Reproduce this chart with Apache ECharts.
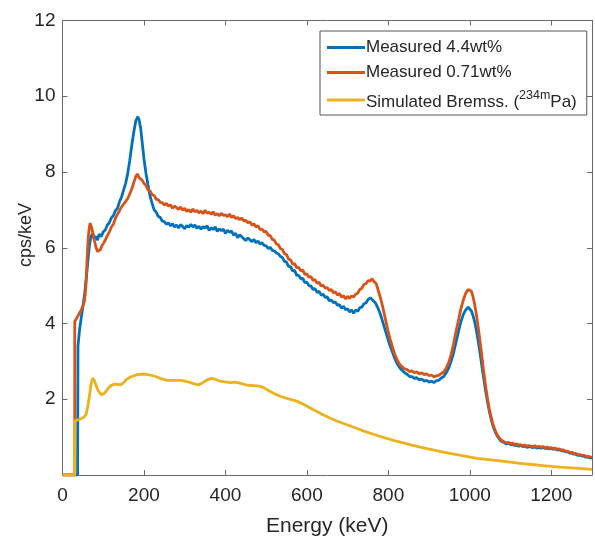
<!DOCTYPE html>
<html>
<head>
<meta charset="utf-8">
<script src="https://cdn.jsdelivr.net/npm/echarts@6/dist/echarts.min.js"></script>
<style>
  html, body { margin: 0; padding: 0; background: #ffffff; }
  #chart { width: 595px; height: 542px; }
</style>
</head>
<body>
<div id="chart"></div>
<script>
// Gamma spectra: [energy keV, counts per second per keV]
const measured44 = [
  [0, 0], [37, 0], [38, 3.4], [42, 3.85], [46, 4.15], [50, 4.45], [54, 4.75], [58, 5.15],
  [62, 5.6], [66, 6.05], [70, 6.3], [74, 6.38], [78, 6.24], [82, 6.3], [86, 6.2], [90, 6.36],
  [95, 6.29], [100, 6.42], [105, 6.47], [110, 6.6], [115, 6.66], [120, 6.79], [125, 6.85],
  [130, 6.98], [135, 7.04], [140, 7.22], [145, 7.34], [150, 7.52], [155, 7.7], [160, 7.95],
  [165, 8.3], [170, 8.7], [175, 9.05], [180, 9.35], [185, 9.46], [188, 9.38], [192, 9.15],
  [196, 8.75], [200, 8.35], [205, 7.96], [210, 7.65], [215, 7.36], [220, 7.17], [225, 7.0],
  [230, 6.94], [235, 6.83], [240, 6.8], [245, 6.7], [250, 6.69], [255, 6.62], [260, 6.66],
  [265, 6.58], [270, 6.63], [275, 6.55], [280, 6.6], [285, 6.52], [290, 6.61], [295, 6.56],
  [300, 6.5], [305, 6.59], [310, 6.54], [315, 6.62], [320, 6.55], [325, 6.6], [330, 6.51],
  [335, 6.57], [340, 6.49], [345, 6.56], [350, 6.52], [355, 6.58], [360, 6.46], [365, 6.53],
  [370, 6.48], [375, 6.55], [380, 6.43], [385, 6.5], [390, 6.45], [395, 6.49], [400, 6.38],
  [405, 6.46], [410, 6.41], [415, 6.44], [420, 6.33], [425, 6.38], [430, 6.27], [435, 6.34],
  [440, 6.29], [445, 6.24], [450, 6.19], [455, 6.26], [460, 6.21], [465, 6.16], [470, 6.22],
  [475, 6.13], [480, 6.18], [485, 6.1], [490, 6.13], [495, 6.06], [500, 6.05], [505, 5.98],
  [510, 6.01], [515, 5.93], [520, 5.92], [525, 5.86], [530, 5.84], [535, 5.77], [540, 5.74],
  [545, 5.64], [550, 5.62], [555, 5.51], [560, 5.5], [565, 5.39], [570, 5.4], [575, 5.27],
  [580, 5.27], [585, 5.18], [590, 5.19], [595, 5.08], [600, 5.09], [605, 5.0], [610, 4.99],
  [615, 4.9], [620, 4.92], [625, 4.82], [630, 4.85], [635, 4.75], [640, 4.77], [645, 4.69],
  [650, 4.7], [655, 4.6], [660, 4.62], [665, 4.55], [670, 4.57], [675, 4.48], [680, 4.5],
  [685, 4.4], [690, 4.46], [695, 4.36], [700, 4.39], [705, 4.3], [710, 4.36], [715, 4.27],
  [720, 4.36], [725, 4.32], [730, 4.42], [735, 4.43], [740, 4.52], [745, 4.54], [750, 4.63],
  [756, 4.68], [762, 4.61], [768, 4.55], [774, 4.42], [780, 4.26], [786, 4.05], [792, 3.84],
  [798, 3.62], [804, 3.42], [810, 3.25], [816, 3.07], [822, 2.93], [828, 2.83], [834, 2.76],
  [840, 2.7], [846, 2.66], [852, 2.6], [858, 2.6], [864, 2.55], [870, 2.57], [876, 2.51],
  [882, 2.53], [888, 2.48], [894, 2.5], [900, 2.45], [906, 2.48], [912, 2.44], [918, 2.49],
  [924, 2.5], [930, 2.56], [936, 2.6], [942, 2.7], [948, 2.82], [954, 3.0], [960, 3.22],
  [966, 3.5], [972, 3.78], [978, 4.04], [984, 4.24], [990, 4.36], [996, 4.43], [1000, 4.4],
  [1004, 4.33], [1008, 4.2], [1012, 4.04], [1016, 3.83], [1020, 3.58], [1024, 3.3],
  [1028, 3.0], [1032, 2.7], [1036, 2.42], [1040, 2.14], [1044, 1.9], [1048, 1.68],
  [1052, 1.49], [1056, 1.33], [1060, 1.2], [1064, 1.1], [1068, 1.02], [1072, 0.96],
  [1076, 0.9], [1080, 0.88], [1085, 0.85], [1090, 0.82], [1095, 0.84], [1100, 0.8],
  [1105, 0.81], [1110, 0.78], [1115, 0.79], [1120, 0.76], [1125, 0.78], [1130, 0.75],
  [1135, 0.76], [1140, 0.73], [1145, 0.75], [1150, 0.74], [1155, 0.72], [1160, 0.74],
  [1165, 0.71], [1170, 0.73], [1175, 0.71], [1180, 0.73], [1185, 0.7], [1190, 0.71],
  [1195, 0.69], [1200, 0.7], [1205, 0.68], [1210, 0.69], [1215, 0.66], [1220, 0.67],
  [1225, 0.64], [1230, 0.64], [1235, 0.61], [1240, 0.61], [1245, 0.58], [1250, 0.58],
  [1255, 0.55], [1260, 0.55], [1265, 0.52], [1270, 0.52], [1275, 0.5], [1280, 0.5],
  [1285, 0.47], [1290, 0.47], [1295, 0.45], [1300, 0.45]
];

const measured071 = [
  [0, 0], [30, 0], [30, 4.05], [34, 4.12], [38, 4.2], [42, 4.28], [46, 4.36], [50, 4.45],
  [54, 4.6], [57, 4.9], [60, 5.6], [63, 6.25], [66, 6.55], [68, 6.65], [71, 6.55], [74, 6.42],
  [78, 6.2], [82, 6.02], [86, 5.9], [89, 5.86], [93, 5.95], [97, 6.06], [101, 6.12],
  [105, 6.2], [110, 6.32], [115, 6.42], [120, 6.55], [125, 6.62], [130, 6.78], [135, 6.88],
  [140, 6.98], [145, 7.08], [150, 7.15], [155, 7.22], [160, 7.3], [165, 7.42], [170, 7.55],
  [175, 7.72], [180, 7.88], [184, 7.95], [188, 7.85], [192, 7.9], [196, 7.78], [200, 7.7],
  [205, 7.64], [210, 7.53], [215, 7.5], [220, 7.4], [225, 7.38], [230, 7.28], [235, 7.27],
  [240, 7.2], [245, 7.19], [250, 7.13], [255, 7.17], [260, 7.1], [265, 7.14], [270, 7.04],
  [275, 7.1], [280, 7.06], [285, 7.01], [290, 7.08], [295, 6.99], [300, 7.04], [305, 6.96],
  [310, 7.01], [315, 6.94], [320, 7.02], [325, 6.95], [330, 6.99], [335, 6.92], [340, 6.97],
  [345, 6.9], [350, 6.99], [355, 6.91], [360, 6.94], [365, 6.88], [370, 6.95], [375, 6.86],
  [380, 6.9], [385, 6.84], [390, 6.91], [395, 6.85], [400, 6.87], [405, 6.82], [410, 6.89],
  [415, 6.8], [420, 6.84], [425, 6.77], [430, 6.8], [435, 6.74], [440, 6.78], [445, 6.71],
  [450, 6.72], [455, 6.66], [460, 6.69], [465, 6.6], [470, 6.63], [475, 6.55], [480, 6.58],
  [485, 6.48], [490, 6.49], [495, 6.42], [500, 6.43], [505, 6.33], [510, 6.32], [515, 6.22],
  [520, 6.2], [525, 6.1], [530, 6.08], [535, 5.98], [540, 5.95], [545, 5.84], [550, 5.82],
  [555, 5.7], [560, 5.68], [565, 5.57], [570, 5.58], [575, 5.47], [580, 5.48], [585, 5.39],
  [590, 5.41], [595, 5.3], [600, 5.31], [605, 5.22], [610, 5.24], [615, 5.14], [620, 5.16],
  [625, 5.06], [630, 5.09], [635, 4.99], [640, 5.01], [645, 4.93], [650, 4.95], [655, 4.87],
  [660, 4.9], [665, 4.81], [670, 4.84], [675, 4.75], [680, 4.79], [685, 4.7], [690, 4.73],
  [695, 4.65], [700, 4.72], [705, 4.66], [710, 4.73], [715, 4.7], [720, 4.78], [725, 4.8],
  [730, 4.9], [735, 4.93], [740, 5.03], [745, 5.05], [750, 5.13], [755, 5.12], [760, 5.18],
  [765, 5.1], [770, 5.06], [775, 4.88], [780, 4.7], [786, 4.45], [792, 4.15], [798, 3.86],
  [804, 3.6], [810, 3.38], [816, 3.18], [822, 3.03], [828, 2.92], [834, 2.86], [840, 2.8],
  [846, 2.78], [852, 2.73], [858, 2.75], [864, 2.7], [870, 2.72], [876, 2.67], [882, 2.7],
  [888, 2.65], [894, 2.67], [900, 2.62], [906, 2.64], [912, 2.59], [918, 2.62], [924, 2.63],
  [930, 2.68], [936, 2.72], [942, 2.82], [948, 2.96], [954, 3.18], [960, 3.45], [966, 3.78],
  [972, 4.08], [978, 4.38], [984, 4.62], [990, 4.8], [996, 4.9], [1000, 4.92], [1004, 4.85],
  [1008, 4.7], [1012, 4.5], [1016, 4.25], [1020, 3.95], [1024, 3.62], [1028, 3.28],
  [1032, 2.92], [1036, 2.58], [1040, 2.26], [1044, 1.98], [1048, 1.74], [1052, 1.54],
  [1056, 1.37], [1060, 1.24], [1064, 1.13], [1068, 1.05], [1072, 0.99], [1076, 0.93],
  [1080, 0.91], [1085, 0.87], [1090, 0.85], [1095, 0.86], [1100, 0.83], [1105, 0.84],
  [1110, 0.81], [1115, 0.82], [1120, 0.79], [1125, 0.8], [1130, 0.78], [1135, 0.79],
  [1140, 0.76], [1145, 0.78], [1150, 0.76], [1155, 0.75], [1160, 0.77], [1165, 0.74],
  [1170, 0.76], [1175, 0.73], [1180, 0.75], [1185, 0.72], [1190, 0.74], [1195, 0.71],
  [1200, 0.72], [1205, 0.7], [1210, 0.71], [1215, 0.68], [1220, 0.69], [1225, 0.66],
  [1230, 0.66], [1235, 0.63], [1240, 0.63], [1245, 0.6], [1250, 0.6], [1255, 0.57],
  [1260, 0.57], [1265, 0.54], [1270, 0.54], [1275, 0.52], [1280, 0.52], [1285, 0.5],
  [1290, 0.49], [1295, 0.48], [1300, 0.47]
];

const simulatedBremss = [
  [0, 0], [30, 0], [30, 1.43], [42, 1.47], [52, 1.52], [58, 1.6], [62, 1.8], [66, 2.08],
  [70, 2.4], [74, 2.56], [78, 2.5], [82, 2.38], [88, 2.22], [95, 2.12], [101, 2.14],
  [107, 2.21], [113, 2.3], [119, 2.36], [125, 2.39], [131, 2.4], [137, 2.39], [143, 2.38],
  [150, 2.44], [157, 2.52], [163, 2.56], [170, 2.6], [183, 2.65], [195, 2.66], [205, 2.66],
  [215, 2.64], [228, 2.6], [240, 2.55], [256, 2.5], [275, 2.5], [292, 2.5], [308, 2.46],
  [320, 2.42], [333, 2.38], [342, 2.42], [349, 2.47], [357, 2.52], [365, 2.55], [375, 2.53],
  [389, 2.47], [400, 2.46], [413, 2.44], [423, 2.45], [433, 2.43], [444, 2.4], [454, 2.37],
  [470, 2.36], [486, 2.34], [495, 2.3], [502, 2.25], [518, 2.16], [534, 2.08], [555, 2.01],
  [575, 1.95], [595, 1.85], [615, 1.73], [635, 1.62], [655, 1.51], [675, 1.42], [695, 1.34],
  [735, 1.18], [776, 1.03], [815, 0.91], [857, 0.79], [898, 0.69], [938, 0.6], [978, 0.52],
  [1018, 0.44], [1058, 0.39], [1099, 0.34], [1140, 0.29], [1180, 0.25], [1220, 0.21],
  [1260, 0.18], [1300, 0.15]
];

const seriesNames = ['Measured 4.4wt%', 'Measured 0.71wt%', 'Simulated Bremss. (234mPa)'];
const seriesColors = ['#0072BD', '#D95319', '#EDB120'];
const xTitle = 'Energy (keV)';
const yTitle = 'cps/keV';

const FONT = '"Liberation Sans", Arial, Helvetica, sans-serif';
const AXIS_GRAY = '#6a6a6a';
const TEXT_DARK = '#262626';

const chart = echarts.init(document.getElementById('chart'), null, { renderer: 'canvas' });

// Shared frame style: a closed box with inward ticks on all four sides
function boxAxis(extra) {
  return Object.assign({
    axisLine: { show: true, onZero: false, lineStyle: { color: AXIS_GRAY, width: 1 } },
    axisTick: { show: true, inside: true, length: 5, lineStyle: { color: AXIS_GRAY } },
    splitLine: { show: false }
  }, extra);
}

const option = {
  backgroundColor: '#ffffff',
  animation: false,
  grid: { left: 62.5, top: 20.5, width: 537, height: 459, containLabel: false },
  legend: {
    orient: 'vertical',
    left: 320,
    top: 31,
    data: seriesNames,
    icon: 'rect',
    itemWidth: 38,
    itemHeight: 3,
    itemGap: 8,
    padding: [8, 10, 4, 7],
    borderColor: '#555555',
    borderWidth: 1,
    backgroundColor: '#ffffff',
    textStyle: {
      fontFamily: FONT,
      fontSize: 17,
      color: TEXT_DARK,
      padding: [0, 0, 0, -4],
      rich: {
        n: { fontFamily: FONT, fontSize: 17, color: TEXT_DARK, verticalAlign: 'bottom' },
        sup: { fontFamily: FONT, fontSize: 12.5, color: TEXT_DARK, verticalAlign: 'bottom', padding: [0, 0, 9, 0] }
      }
    },
    formatter: function (name) {
      const m = name.match(/^(.*\()(\d+m)(.*)$/);
      if (m) {
        return '{n|' + m[1] + '}{sup|' + m[2] + '}{n|' + m[3] + '}';
      }
      return name;
    }
  },
  xAxis: [
    boxAxis({
      type: 'value',
      min: 0,
      max: 1300,
      interval: 200,
      position: 'bottom',
      name: xTitle,
      nameLocation: 'middle',
      nameGap: 41,
      nameTextStyle: { fontFamily: FONT, fontSize: 21, color: TEXT_DARK },
      axisLabel: {
        margin: 11,
        fontFamily: FONT,
        fontSize: 19,
        color: TEXT_DARK,
        formatter: function (v) { return v % 200 === 0 ? String(v) : ''; }
      }
    }),
    boxAxis({
      type: 'value',
      min: 0,
      max: 1300,
      interval: 200,
      position: 'top',
      axisLabel: { show: false }
    })
  ],
  yAxis: [
    boxAxis({
      type: 'value',
      min: 0,
      max: 12,
      interval: 2,
      position: 'left',
      axisLabel: {
        margin: 7,
        fontFamily: FONT,
        fontSize: 19,
        color: TEXT_DARK,
        showMinLabel: false
      }
    }),
    boxAxis({
      type: 'value',
      min: 0,
      max: 12,
      interval: 2,
      position: 'right',
      axisLabel: { show: false }
    })
  ],
  graphic: [
    {
      type: 'text',
      x: 26,
      y: 235,
      rotation: Math.PI / 2,
      style: {
        text: yTitle,
        x: 0,
        y: 0,
        align: 'center',
        verticalAlign: 'middle',
        fontFamily: FONT,
        fontSize: 18,
        fill: TEXT_DARK
      }
    }
  ],
  series: [measured44, measured071, simulatedBremss].map(function (d, i) {
    return {
      name: seriesNames[i],
      type: 'line',
      xAxisIndex: 0,
      yAxisIndex: 0,
      data: d,
      showSymbol: false,
      symbol: 'none',
      smooth: false,
      clip: true,
      lineStyle: { color: seriesColors[i], width: 2.8 },
      itemStyle: { color: seriesColors[i] },
      z: 2 + i
    };
  })
};

chart.setOption(option);
</script>
</body>
</html>
